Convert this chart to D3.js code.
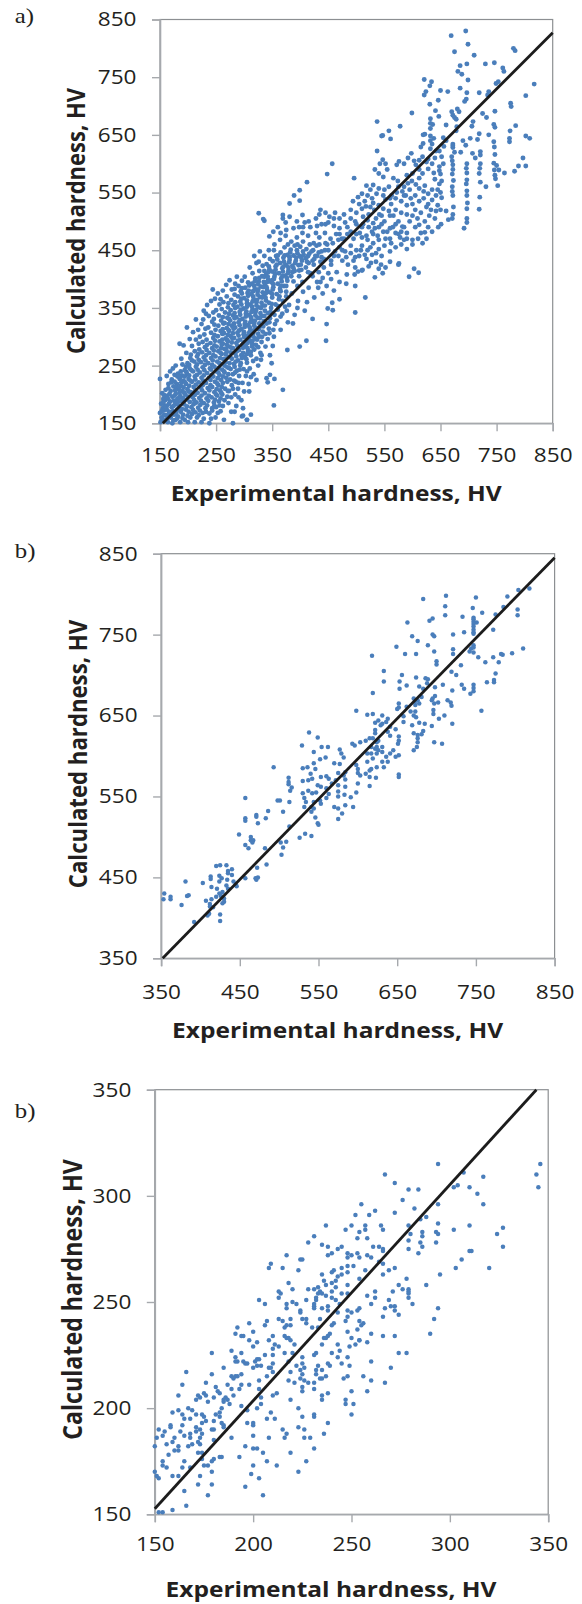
<!DOCTYPE html>
<html><head><meta charset="utf-8">
<script src="https://cdn.jsdelivr.net/npm/d3@7"></script>
<style>html,body{margin:0;padding:0;background:#fff}svg{display:block}</style>
</head><body><div id="c"></div>
<script>
const ticksA=[150,250,350,450,550,650,750,850];
const ticksB=[350,450,550,650,750,850];
const ticksC=[150,200,250,300,350];
const lineA=[[155,150],[850,827]];
const lineB=[[352,350],[850,845]];
const lineC=[[150,152.6],[344,350]];
const xTitle="Experimental hardness, HV";
const yTitle="Calculated hardness, HV";

const pointsAUpper=[[695,830],[669,822],[699,807],[675,794],[710,788],[780,800],[783,796],[685,770],[697,773],[730,773],[746,775],[761,766],[763,760],[681,760],[688,755],[699,745],[753,742],[749,739],[817,738],[621,746],[634,742],[631,735],[685,731],[650,727],[663,725],[719,723],[697,723],[736,725],[734,719],[624,725],[621,719],[802,718],[696,712],[693,708],[646,710],[631,703],[775,705],[776,699],[641,692],[747,691],[670,690],[680,695],[683,690],[647,682],[599,688],[672,684],[675,680],[678,677],[725,687],[732,680],[632,678],[632,670],[636,668],[632,661],[537,673],[578,665],[660,667],[708,673],[706,665],[745,668],[747,663],[784,666],[774,657],[558,657],[545,648],[547,649],[561,643],[619,650],[622,651],[632,648],[638,644],[655,645],[679,664],[678,657],[719,652],[736,650],[703,644],[716,642],[773,644],[773,638],[802,648],[809,644],[619,635],[615,629],[632,640],[635,634],[632,626],[642,622],[660,640],[656,630],[648,622],[672,634],[672,628],[675,620],[695,632],[690,640],[686,620],[707,618],[712,610],[721,621],[721,615],[745,638],[746,629],[747,616],[745,601],[750,597],[746,589],[747,580],[748,574],[752,562],[731,560],[797,610],[789,596],[802,596],[782,587],[764,584],[754,589],[721,600],[720,592],[719,583],[721,568],[720,542],[719,521],[697,600],[696,592],[697,584],[697,572],[696,565],[697,553],[697,545],[698,532],[697,522],[697,505],[697,498],[692,488],[672,631],[670,612],[671,605],[672,598],[672,590],[671,582],[673,571],[671,560],[671,552],[672,545],[673,525],[671,505],[664,503],[655,600],[652,612],[648,595],[648,588],[650,582],[652,570],[648,565],[645,555],[650,550],[652,541],[645,528],[651,495],[646,490],[640,610],[635,600],[628,608],[625,603],[618,612],[612,606],[606,598],[603,605],[598,618],[592,610],[585,600],[576,604],[572,598],[555,590],[537,622],[547,607],[552,600],[542,600],[533,590],[540,583],[548,577],[566,575],[574,570],[585,560],[592,566],[599,570],[606,564],[612,557],[620,552],[628,548],[635,555],[622,562],[612,575],[600,583],[590,580],[640,573],[638,584],[628,591],[618,583],[612,590],[650,520],[642,518],[633,520],[630,510],[622,500],[612,494],[609,505],[605,520],[600,530],[597,540],[588,545],[582,552],[575,560],[563,545],[558,560],[550,555],[540,557],[530,563],[525,555],[518,562],[520,545],[510,548],[503,542],[494,535],[505,530],[517,526],[530,532],[540,528],[552,538],[562,530],[570,540],[580,535],[590,528],[600,510],[615,515],[625,525],[635,537],[642,545],[660,518],[672,512],[610,470],[622,481],[628,490],[618,462],[600,468],[590,480],[582,491],[575,500],[566,510],[558,518],[548,522],[541,512],[532,520],[522,512],[512,508],[500,515],[490,520],[478,512],[470,505],[462,515],[452,508],[445,515],[436,520],[434,512],[428,505],[457,600],[448,582],[412,568],[496,575],[399,554],[389,545],[399,536],[381,531],[326,514],[334,504],[336,501],[369,511],[369,505],[404,511],[394,500],[381,508],[374,498],[360,490],[352,482],[345,474],[388,488],[398,490],[408,498],[418,490],[428,480],[438,495],[450,498],[460,492],[470,488],[480,498],[490,505],[500,495],[510,490],[520,502],[530,497],[540,490],[550,500],[560,488],[570,495],[580,482],[590,470],[600,460],[570,480],[560,470],[548,482],[538,475],[528,482],[518,475],[506,480],[495,470],[484,478],[474,470],[464,478],[454,470],[444,480],[434,472],[424,462],[414,475],[404,480],[394,472],[384,465],[374,475],[364,468],[354,460],[344,450],[336,440],[328,448],[318,440],[326,430],[590,452],[580,460],[570,455],[560,448],[550,458],[540,452],[530,462],[520,450],[510,458],[500,450],[490,458],[480,448],[470,455],[545,440],[535,430],[528,442],[518,435],[505,440],[495,432],[485,425],[475,432],[560,430],[575,425],[552,420],[540,418],[522,422],[510,415],[498,420],[483,408],[465,412],[470,395],[482,392],[455,400],[447,388],[460,380],[440,375],[432,385],[436,395],[450,410],[442,420],[455,425],[442,435],[460,440],[450,450],[438,448],[430,440],[424,425],[433,412],[422,405],[414,412],[404,395],[415,385],[395,388],[405,378],[425,368],[412,360],[396,362],[385,375],[375,370],[380,355],[395,350],[408,345],[390,338],[376,345],[365,335],[378,325],[365,312],[355,322],[345,325],[611,411],[603,418],[594,404],[576,427],[547,410],[544,425],[533,403],[526,428],[516,368],[498,388],[498,342],[503,413],[511,416],[497,408],[470,365],[457,359],[458,346],[449,349],[447,322],[446,293],[411,293],[399,283],[422,331],[377,277],[387,323],[351,284],[346,268],[349,254]];

const pointsACore=[
[151,152],[153,160],[150,168],[155,176],[152,184],[156,192],[150,227],[154,202],[158,155],[160,164],[157,172],[162,180],[159,190],[163,198],[160,208],[165,218],[162,232],[168,240],[164,152],[169,160],[166,170],[171,178],[168,188],[172,196],[169,206],[174,214],[171,226],[176,234],[173,245],[172,150],[178,156],[175,165],[180,173],[177,183],[181,192],[178,201],[183,209],[180,218],[185,227],[182,236],[178,250],[186,152],[182,162],[187,170],[184,180],[189,188],[186,197],[190,206],[187,215],[192,224],[189,233],[194,242],[190,252],[188,262],[194,156],[191,165],[196,174],[193,183],[198,191],[195,200],[199,209],[196,218],[201,227],[198,236],[203,245],[199,254],[204,263],[197,272],[192,285],[185,288],[200,152],[204,160],[201,170],[206,178],[203,187],[208,195],[205,204],[210,213],[207,222],[212,231],[209,240],[214,248],[211,257],[216,266],[212,275],[207,284],[203,296],[209,308],[198,316],[212,152],[216,160],[213,169],[218,177],[215,186],[220,194],[217,203],[222,212],[219,221],[224,229],[221,238],[226,247],[223,256],[228,264],[225,273],[230,282],[226,291],[221,300],[218,312],[224,322],[214,330],[232,340],[224,152],[228,158],[226,168],[231,176],[228,185],[233,193],[230,202],[235,211],[232,220],[237,228],[234,237],[239,245],[236,254],[241,263],[238,272],[243,280],[240,289],[245,298],[241,307],[236,316],[243,326],[237,336],[228,345],[234,355],[241,362],[238,150],[241,158],[238,167],[243,176],[246,186],[242,195],[247,204],[243,213],[248,222],[245,231],[250,240],[247,248],[252,257],[249,266],[254,275],[251,283],[256,292],[253,301],[258,310],[254,319],[259,328],[255,337],[250,346],[256,356],[248,366],[253,375],[244,382],[249,160],[253,168],[250,178],[255,188],[252,198],[257,207],[254,216],[259,225],[256,234],[261,243],[258,252],[263,261],[260,270],[265,279],[262,288],[267,297],[264,306],[269,315],[265,324],[270,333],[266,342],[271,351],[263,360],[269,370],[262,380],[268,390],[258,171],[262,180],[265,190],[261,200],[266,210],[262,220],[268,229],[265,238],[270,247],[267,256],[272,265],[269,274],[274,283],[271,292],[276,301],[273,310],[278,319],[275,328],[280,337],[276,346],[281,355],[277,364],[283,373],[278,382],[284,392],[274,398],[272,185],[277,195],[273,206],[278,216],[275,226],[280,235],[276,244],[282,253],[278,262],[284,271],[280,280],[286,289],[282,298],[288,307],[284,316],[290,325],[286,334],[292,343],[288,352],[293,361],[289,370],[294,379],[290,388],[296,397],[287,404],[283,170],[286,180],[284,200],[289,210],[285,222],[291,232],[287,241],[293,250],[289,259],[295,268],[291,277],[297,286],[293,295],[299,304],[295,313],[301,322],[297,331],[303,340],[299,349],[305,358],[300,367],[306,376],[302,385],[307,394],[301,404],[296,162],[298,176],[295,190],[300,205],[297,220],[303,232],[299,244],[305,255],[301,265],[307,275],[303,284],[309,293],[305,302],[311,311],[307,320],[313,329],[309,338],[315,347],[311,356],[317,365],[313,374],[319,383],[314,392],[320,401],[315,410],[310,420],[322,428],[305,156],[309,205],[308,218],[312,230],[310,245],[316,258],[312,268],[318,278],[314,288],[320,297],[316,306],[322,315],[318,324],[324,333],[320,342],[326,351],[322,360],[328,369],[324,378],[330,387],[326,396],[332,405],[327,414],[333,423],[317,235],[322,225],[325,250],[322,262],[329,272],[325,282],[331,291],[327,300],[333,309],[329,318],[335,327],[331,336],[337,345],[333,354],[339,363],[335,372],[341,381],[337,390],[343,399],[339,408],[345,417],[340,426],[346,435],[331,268],[330,260],[340,228],[342,221],[338,283],[342,296],[338,305],[344,314],[340,323],[346,332],[342,341],[348,350],[344,359],[350,368],[346,377],[352,386],[348,395],[354,404],[350,413],[356,422],[351,431],[357,440],[353,450],[354,227],[346,234],[353,181],[369,208],[353,300],[352,312],[358,328],[354,338],[360,347],[356,356],[362,365],[358,374],[364,383],[360,392],[366,401],[362,410],[368,419],[364,428],[370,437],[365,446],[372,455],[368,340],[373,352],[369,362],[375,378],[371,388],[377,397],[373,406],[379,415],[375,424],[381,433],[377,442],[383,451],[378,460],[388,396],[384,405],[390,414],[386,423],[392,432],[388,441],[394,450],[390,458],[398,405],[402,416],[397,424],[403,432],[399,440],[405,448],[400,456],[410,420],[415,428],[410,436],[416,444],[411,452],[417,460],[422,432],[427,440],[423,450],[429,458],[418,410],[436,430],[440,402],[430,395],[350,398],[312,165],[298,163],[305,156],[280,150],[264,156],[290,195],[277,170]];

const pointsACoreDense=[[154,156],[157,164],[153,171],[158,181],[156,187],[161,195],[157,199],[163,158],[165,165],[162,174],[166,184],[164,193],[167,201],[165,211],[170,221],[174,155],[173,171],[174,180],[175,189],[176,198],[177,207],[178,213],[176,222],[181,231],[181,159],[179,168],[183,176],[182,187],[184,194],[185,203],[184,212],[188,221],[186,230],[187,240],[190,159],[189,175],[192,186],[191,194],[193,203],[192,212],[195,221],[194,231],[197,239],[196,248],[199,163],[198,179],[200,196],[201,205],[202,215],[204,224],[202,233],[206,242],[202,251],[207,259],[205,269],[207,166],[209,173],[210,183],[211,190],[212,199],[213,208],[214,217],[213,226],[216,234],[217,243],[216,252],[219,260],[218,270],[220,278],[219,288],[214,295],[219,164],[221,172],[222,182],[223,189],[224,198],[225,207],[226,216],[227,224],[228,233],[229,242],[230,251],[231,259],[232,268],[233,277],[234,286],[233,295],[229,304],[231,314],[227,330],[232,170],[234,181],[236,189],[237,198],[238,207],[240,216],[240,225],[242,234],[241,243],[243,251],[244,259],[245,268],[246,276],[247,285],[248,293],[247,303],[249,312],[247,321],[246,331],[245,342],[243,172],[247,181],[248,191],[250,200],[251,209],[252,219],[253,228],[254,238],[255,246],[256,254],[257,263],[258,272],[259,280],[260,286],[261,295],[261,305],[262,313],[263,323],[262,334],[260,348],[258,365],[256,181],[258,193],[259,203],[260,213],[262,231],[264,240],[265,250],[266,262],[267,270],[268,279],[269,286],[270,294],[271,303],[272,312],[272,322],[273,331],[273,340],[272,358],[270,196],[271,206],[270,222],[272,235],[273,246],[274,254],[275,265],[276,273],[277,281],[278,290],[279,297],[280,306],[281,314],[282,323],[283,332],[283,341],[284,350],[284,360],[283,383],[280,210],[282,224],[284,238],[283,248],[285,257],[286,266],[287,275],[288,284],[289,293],[290,302],[291,311],[292,320],[292,329],[293,338],[294,347],[295,356],[295,366],[296,375],[296,384],[290,220],[292,243],[294,254],[296,263],[298,272],[298,281],[299,290],[300,299],[300,308],[301,317],[302,326],[303,335],[304,344],[305,352],[305,363],[307,371],[308,380],[309,389],[305,240],[304,261],[305,270],[306,280],[306,289],[308,298],[309,307],[310,316],[311,325],[312,334],[313,343],[314,352],[315,361],[316,370],[316,379],[318,388],[319,396],[312,274],[314,283],[315,293],[316,301],[317,311],[318,319],[319,328],[320,337],[321,346],[322,354],[323,364],[324,373],[325,382],[325,391],[327,402],[321,286],[323,295],[325,305],[326,313],[327,323],[328,332],[329,341],[330,350],[331,359],[332,368],[333,377],[334,386],[335,395],[336,404],[336,414],[332,300],[334,318],[336,336],[337,354],[338,368],[339,376],[340,386],[341,395],[342,404],[343,412],[344,422],[345,306],[347,343],[349,357],[350,374],[351,382],[352,391],[353,400],[355,409],[356,416],[358,425],[359,434],[360,441],[361,353],[363,370],[365,379],[365,388],[367,396],[368,405],[369,413],[370,422],[371,430],[372,441],[375,388],[376,402],[378,410],[379,420],[380,429],[381,438],[382,446],[386,412],[388,419],[391,428],[393,437],[395,445],[398,415],[401,425],[402,437],[406,442],[412,430],[414,440],[420,448],[425,435],[433,446],[438,438],[444,450],[448,460],[455,432],[462,448],[468,440],[475,450],[482,438],[490,445],[498,438],[508,450],[515,442],[525,455],[535,445],[540,468],[552,470],[562,462],[578,472],[585,468],[510,472],[520,468],[530,478],[500,478],[490,482],[478,470],[468,468],[458,462],[445,462],[434,460],[405,465],[395,460],[512,495],[522,490],[533,488],[545,495],[555,482],[565,490],[575,478],[585,490],[595,500],[605,490],[615,480],[625,470],[635,482],[640,505],[612,535],[620,540],[628,530],[605,545],[595,555],[585,545],[572,550],[560,540],[548,545],[536,548],[528,540],[515,535],[560,510],[570,520],[580,515],[590,512],[545,510],[535,505],[525,525],[510,522],[498,500],[484,490],[470,478],[460,505],[445,495],[430,492],[415,500],[405,490],[375,485],[365,480]];

const pointsB=[[818,807],[804,805],[790,797],[712,798],[750,796],[683,794],[711,785],[746,783],[785,784],[803,781],[758,777],[803,774],[775,775],[711,774],[733,772],[747,771],[747,769],[747,766],[751,765],[747,763],[747,760],[747,756],[747,753],[747,751],[695,770],[691,767],[663,765],[772,756],[735,753],[721,750],[695,750],[697,748],[669,748],[676,742],[689,737],[649,735],[747,737],[744,733],[747,734],[742,729],[747,728],[810,733],[721,732],[721,726],[697,729],[660,726],[674,726],[618,724],[784,725],[796,727],[782,726],[772,722],[753,722],[762,716],[779,716],[700,717],[700,713],[731,712],[633,705],[719,704],[725,700],[775,702],[773,694],[773,691],[764,691],[656,700],[674,697],[686,696],[689,695],[688,690],[633,692],[653,692],[708,688],[732,688],[735,683],[662,687],[678,686],[683,683],[653,683],[747,688],[747,684],[747,680],[743,677],[698,685],[720,681],[619,678],[671,671],[676,669],[681,673],[695,671],[698,674],[694,669],[673,668],[678,665],[714,669],[718,666],[719,662],[702,666],[697,665],[652,665],[652,660],[650,658],[662,661],[667,655],[673,663],[673,655],[671,650],[674,648],[696,657],[696,652],[710,650],[703,646],[757,656],[598,656],[612,651],[619,652],[631,650],[720,640],[678,641],[685,640],[694,637],[658,649],[658,642],[626,644],[638,646],[636,642],[622,641],[631,640],[629,638],[648,633],[622,632],[622,628],[641,636],[638,630],[641,625],[669,638],[671,628],[676,626],[683,631],[681,627],[538,629],[652,624],[652,619],[651,615],[697,617],[707,615],[549,623],[593,615],[596,613],[603,617],[610,619],[615,622],[619,622],[624,617],[626,619],[617,611],[529,613],[554,611],[562,611],[676,622],[676,617],[675,611],[671,607],[624,611],[626,607],[631,611],[631,605],[622,609],[624,603],[617,603],[612,603],[619,597],[636,599],[641,603],[645,607],[652,601],[648,599],[577,608],[579,603],[582,598],[544,605],[552,596],[559,598],[570,591],[577,590],[544,591],[493,586],[598,589],[600,584],[612,593],[631,593],[638,593],[624,586],[633,586],[617,584],[615,582],[610,578],[615,574],[623,573],[652,577],[652,574],[530,585],[536,586],[546,584],[584,580],[582,576],[575,579],[600,579],[603,576],[540,578],[560,575],[553,574],[542,572],[537,570],[530,569],[512,573],[512,568],[512,565],[563,572],[572,570],[567,566],[584,571],[600,566],[615,563],[575,564],[584,562],[560,560],[516,561],[549,564],[553,562],[457,548],[498,545],[501,545],[513,543],[537,557],[530,554],[542,554],[547,555],[514,557],[532,548],[534,543],[544,543],[552,545],[553,541],[532,537],[541,537],[544,535],[541,531],[560,548],[563,553],[575,556],[575,550],[583,552],[591,549],[598,555],[570,537],[575,535],[584,539],[594,537],[580,529],[575,522],[486,532],[505,531],[471,527],[471,525],[483,523],[473,517],[457,523],[457,520],[513,513],[546,524],[549,517],[550,515],[449,503],[464,500],[464,496],[467,496],[466,493],[457,490],[461,486],[482,486],[533,504],[541,501],[526,499],[502,493],[509,494],[505,487],[503,478],[484,466],[472,462],[473,450],[470,449],[471,447],[420,464],[425,465],[433,465],[440,460],[435,458],[435,455],[440,453],[413,451],[413,448],[424,452],[427,449],[434,447],[424,445],[442,445],[403,443],[381,445],[457,449],[414,438],[421,436],[433,440],[435,436],[445,441],[446,439],[385,428],[383,427],[354,430],[353,423],[362,426],[362,423],[376,416],[407,421],[414,423],[420,426],[424,430],[428,432],[426,427],[430,424],[430,420],[428,418],[412,417],[412,414],[416,413],[425,404],[411,405],[409,403],[425,396],[392,395]];

const pointsC=[[346,315],[294,315],[267,310],[344,310],[307,311],[317,309],[272,306],[345,304],[302,304],[304,305],[310,304],[314,301],[279,303],[284,303],[276,298],[317,296],[255,296],[282,294],[294,296],[252,291],[259,291],[262,293],[272,292],[288,290],[285,289],[237,286],[250,286],[247,284],[257,286],[257,284],[254,283],[265,286],[266,284],[279,286],[294,287],[310,286],[327,285],[302,284],[293,283],[294,282],[324,282],[280,282],[286,283],[286,281],[231,281],[253,280],[258,280],[228,278],[279,279],[293,278],[285,278],[235,277],[238,276],[245,276],[243,275],[261,276],[264,276],[266,275],[266,274],[279,275],[286,276],[327,276],[311,274],[310,274],[217,272],[225,270],[224,270],[240,273],[238,272],[248,273],[250,272],[248,271],[253,273],[254,271],[258,272],[260,271],[284,273],[306,270],[264,269],[266,268],[209,268],[208,266],[215,266],[223,265],[320,266],[303,266],[272,266],[269,265],[295,263],[245,266],[248,267],[251,267],[248,264],[241,265],[240,264],[257,265],[266,263],[235,263],[245,263],[243,262],[242,260],[254,261],[236,260],[218,259],[237,258],[240,259],[242,257],[278,261],[274,258],[288,258],[228,256],[233,257],[231,256],[234,255],[235,254],[233,254],[232,252],[237,253],[240,252],[240,255],[248,258],[248,254],[245,254],[220,256],[213,255],[214,254],[213,252],[271,255],[276,256],[279,256],[279,255],[279,254],[258,253],[262,255],[262,252],[203,251],[227,251],[232,251],[242,251],[244,249],[269,251],[279,252],[217,249],[217,247],[220,250],[222,249],[206,249],[231,249],[231,248],[231,247],[235,247],[238,248],[238,246],[260,249],[281,249],[267,247],[270,248],[272,248],[272,246],[274,244],[294,247],[224,246],[224,245],[243,245],[248,246],[248,243],[253,246],[254,247],[250,245],[234,242],[241,240],[240,239],[266,243],[292,242],[225,242],[227,242],[207,241],[206,239],[213,242],[215,241],[219,242],[219,239],[216,238],[217,239],[227,240],[198,240],[192,238],[247,241],[254,241],[256,240],[255,239],[233,238],[230,238],[200,236],[239,235],[248,236],[253,237],[191,235],[194,234],[195,234],[198,232],[210,234],[216,234],[217,233],[219,232],[236,233],[238,234],[250,233],[260,235],[266,234],[272,234],[290,235],[254,232],[202,231],[200,229],[208,232],[211,230],[213,229],[210,228],[218,233],[221,230],[235,230],[237,233],[243,230],[244,227],[249,229],[252,230],[254,232],[258,231],[274,226],[278,226],[179,226],[189,227],[194,226],[220,226],[225,224],[231,225],[232,226],[240,226],[216,226],[206,225],[210,225],[243,224],[248,224],[191,224],[192,222],[195,222],[196,221],[197,221],[201,222],[202,223],[203,223],[260,222],[191,222],[202,220],[204,220],[210,221],[209,219],[218,222],[222,220],[225,221],[226,219],[233,220],[238,221],[239,220],[245,221],[249,220],[270,219],[166,217],[185,219],[200,219],[208,219],[207,215],[210,217],[219,217],[224,218],[225,216],[232,218],[232,216],[235,218],[237,215],[256,215],[179,216],[189,215],[191,215],[194,216],[190,214],[192,215],[218,213],[224,214],[226,213],[228,212],[234,214],[235,214],[246,214],[248,215],[260,213],[267,212],[164,211],[176,212],[187,211],[189,209],[194,211],[193,209],[198,211],[203,213],[203,209],[221,212],[231,212],[231,209],[225,210],[225,208],[162,206],[172,206],[175,207],[176,206],[181,210],[182,208],[183,207],[186,205],[190,206],[210,206],[212,207],[204,205],[235,206],[238,207],[258,208],[250,208],[171,204],[173,205],[177,203],[180,205],[185,203],[185,204],[187,204],[188,202],[194,201],[197,199],[219,204],[204,202],[235,204],[247,204],[167,200],[169,199],[162,199],[159,198],[184,200],[183,198],[181,197],[174,197],[175,196],[171,197],[223,200],[202,200],[247,202],[251,202],[164,197],[165,195],[168,195],[183,196],[209,198],[207,195],[211,195],[225,196],[231,197],[231,196],[250,197],[158,192],[158,191],[164,192],[174,193],[171,191],[173,190],[176,194],[180,194],[184,193],[185,192],[197,193],[200,193],[200,192],[238,193],[185,191],[152,190],[155,189],[163,189],[168,188],[171,189],[174,188],[179,190],[180,190],[215,190],[217,188],[216,186],[223,191],[226,190],[236,188],[151,186],[154,187],[160,186],[165,187],[168,186],[173,186],[180,185],[189,186],[200,187],[208,186],[226,186],[229,186],[150,182],[156,183],[159,184],[162,182],[167,182],[169,183],[173,183],[172,184],[196,182],[200,181],[202,181],[231,181],[157,178],[160,180],[162,180],[172,179],[174,179],[205,179],[219,179],[165,175],[154,175],[154,173],[156,172],[164,172],[168,172],[174,176],[175,173],[177,173],[179,175],[180,176],[183,177],[184,177],[193,177],[207,175],[212,173],[227,175],[150,170],[151,168],[152,167],[159,168],[162,168],[179,170],[200,173],[223,170],[173,168],[199,169],[203,167],[172,164],[179,164],[196,163],[177,159],[205,159],[165,161],[166,154],[159,152],[154,151],[152,151]];

const W=582,H=1604;
const BLUE="#4a7ebb",INK="#231f20",AXIS="#a6a9ad",FRAME="#8c8f92";
const SANS="'Open Sans',sans-serif";
const WIDEN=1.13;
const svg=d3.select("#c").append("svg").attr("width",W).attr("height",H).attr("viewBox",`0 0 ${W} ${H}`);

function panel(o){
  const x=d3.scaleLinear().domain(o.xd).range([o.l,o.r]);
  const y=d3.scaleLinear().domain(o.yd).range([o.b,o.t]);
  const g=svg.append("g");
  g.append("rect").attr("x",o.l).attr("y",o.t).attr("width",o.r-o.l).attr("height",o.b-o.t)
    .attr("fill","none").attr("stroke",FRAME).attr("stroke-width",1.2);
  const ax=g.append("g").attr("transform",`translate(0,${o.b})`)
    .call(d3.axisBottom(x).tickValues(o.ticks).tickSize(8).tickPadding(13));
  const ay=g.append("g").attr("transform",`translate(${o.l},0)`)
    .call(d3.axisLeft(y).tickValues(o.ticks).tickSize(8));
  [ax,ay].forEach(a=>{
    a.select(".domain").attr("stroke",AXIS).attr("stroke-width",1.6);
    a.selectAll(".tick line").attr("stroke",AXIS).attr("stroke-width",1.4);
    a.selectAll("text").attr("font-family",SANS).attr("font-size",20).attr("fill",INK);
  });
  ax.selectAll("text").attr("y",0).attr("dy",0).attr("transform",`translate(0,${o.xLabelBase}) scale(${WIDEN},1)`);
  ay.selectAll("text").attr("x",0).attr("transform",`translate(-23.5,0) scale(${WIDEN},1)`);
  g.append("g").selectAll("circle").data(o.points).join("circle")
    .attr("cx",d=>x(d[0])).attr("cy",d=>y(d[1])).attr("r",o.r0).attr("fill",BLUE);
  g.append("path").datum(o.line)
    .attr("d",d3.line().x(d=>x(d[0])).y(d=>y(d[1])))
    .attr("stroke","#1c1c1c").attr("stroke-width",2.8).attr("fill","none");
  g.append("text").attr("transform",`translate(${o.xtx},${o.xty}) scale(${WIDEN},1)`).attr("text-anchor","middle")
    .attr("font-family",SANS).attr("font-weight",700).attr("font-size",21.7).attr("fill",INK).text(xTitle);
  g.append("text").attr("transform",`translate(${o.ytx},${o.yty}) rotate(-90) scale(1,${WIDEN})`).attr("text-anchor","middle")
    .attr("font-family",SANS).attr("font-weight",700).attr("font-size",o.yfs).attr("fill",INK).text(yTitle);
  g.append("text").attr("transform",`translate(${o.tagx},${o.tagy}) scale(${WIDEN},1)`).attr("font-family","'Liberation Serif',serif")
    .attr("font-size",22).attr("fill",INK).text(o.tag);
}
panel({r0:2.45,points:pointsAUpper.concat(pointsACore,pointsACoreDense),line:lineA,ticks:ticksA,xd:[150,850],yd:[150,850],l:160,r:552.7,t:19.5,b:423.3,xLabelBase:39,xtx:336.3,xty:501,ytx:85,yty:221,yfs:22,tag:"a)",tagx:14.8,tagy:23});
panel({r0:2.25,points:pointsB,line:lineB,ticks:ticksB,xd:[350,850],yd:[350,850],l:161.1,r:554.6,t:553.7,b:958.3,xLabelBase:41,xtx:337.6,xty:1038,ytx:87,yty:754,yfs:22.2,tag:"b)",tagx:14.8,tagy:558});
panel({r0:2.25,points:pointsC,line:lineC,ticks:ticksC,xd:[150,350],yd:[150,350],l:154.8,r:548.2,t:1089.7,b:1514.3,xLabelBase:37,xtx:331,xty:1597,ytx:81.7,yty:1299.5,yfs:23.2,tag:"b)",tagx:14.8,tagy:1118});
</script></body></html>
